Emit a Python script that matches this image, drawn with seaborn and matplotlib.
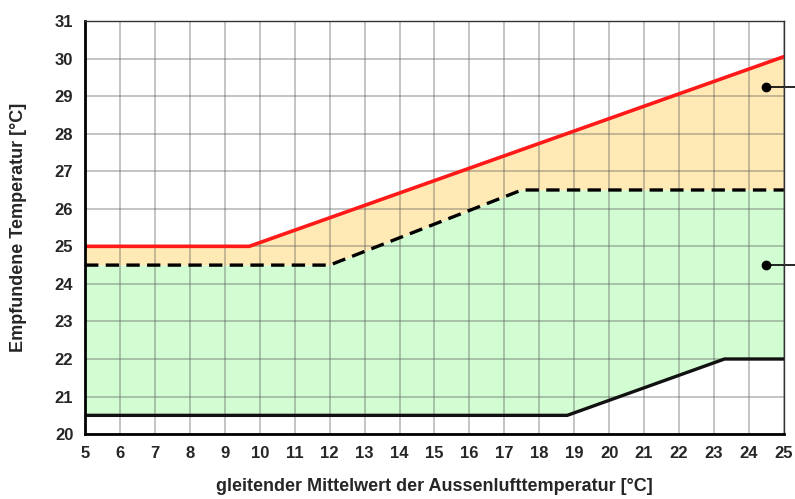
import matplotlib
matplotlib.use("Agg")
import matplotlib.pyplot as plt
import seaborn as sns
import numpy as np

# ── DATA ─────────────────────────────────────────────────────────────────────
x_upper = [5, 9.7, 25]          # red upper limit
y_upper = [25.0, 25.0, 30.05]
x_dash = [5, 12, 17.5, 25]      # dashed comfort line
y_dash = [24.5, 24.5, 26.5, 26.5]
x_lower = [5, 18.8, 23.3, 25]   # black lower limit
y_lower = [20.5, 20.5, 22.0, 22.0]
marker_x = [24.5, 24.5]
marker_y = [29.25, 24.5]

xticks = list(range(5, 26))
yticks = list(range(20, 32))

sns.set_style("white")
plt.rcParams["font.family"] = ["Liberation Sans", "DejaVu Sans"]

fig = plt.figure(figsize=(7.95, 4.99), dpi=100)
ax = fig.add_axes([0.107, 0.130, 0.879, 0.828])

# fills on a common grid
xs = np.linspace(5, 25, 401)
up = np.interp(xs, x_upper, y_upper)
mid = np.interp(xs, x_dash, y_dash)
low = np.interp(xs, x_lower, y_lower)
ax.fill_between(xs, mid, up, color="#FFEAB6", zorder=1, linewidth=0)
ax.fill_between(xs, low, mid, color="#D2FCD2", zorder=1, linewidth=0)

sns.lineplot(x=x_upper, y=y_upper, color="#FF1A1A", linewidth=2.6, ax=ax, zorder=4)
sns.lineplot(x=x_dash, y=y_dash, color="black", linewidth=2.4, ax=ax, zorder=4,
             linestyle=(0, (4, 2.2)))
sns.lineplot(x=x_lower, y=y_lower, color="#111111", linewidth=2.4, ax=ax, zorder=4)

# markers with leader lines running off to the right
for mx, my in zip(marker_x, marker_y):
    ax.plot([mx, 26.0], [my, my], color="black", linewidth=1.2, clip_on=False, zorder=5)
    ax.plot(mx, my, "o", color="black", markersize=6, clip_on=False, zorder=6)

ax.set_xlim(5, 25)
ax.set_ylim(20, 31)
ax.set_xticks(xticks)
ax.set_yticks(yticks)
ax.grid(True, color="#555555", alpha=0.35, linewidth=1.4, zorder=2)
ax.set_axisbelow(False)

for s in ["top", "right"]:
    ax.spines[s].set_color("#333333")
    ax.spines[s].set_linewidth(1.0)
for s in ["left", "bottom"]:
    ax.spines[s].set_color("black")
    ax.spines[s].set_linewidth(2.0)
for s in ax.spines.values():
    s.set_zorder(7)

ax.tick_params(axis="both", direction="out", length=5, width=1.5, color="black",
               labelsize=12)
for lbl in ax.get_xticklabels() + ax.get_yticklabels():
    lbl.set_fontweight("bold")

ax.set_xlabel("gleitender Mittelwert der Aussenlufttemperatur [°C]",
              fontsize=13, fontweight="bold", labelpad=12)
ax.set_ylabel("Empfundene Temperatur [°C]", fontsize=13, fontweight="bold", labelpad=20)

plt.savefig("out.png", dpi=100)
